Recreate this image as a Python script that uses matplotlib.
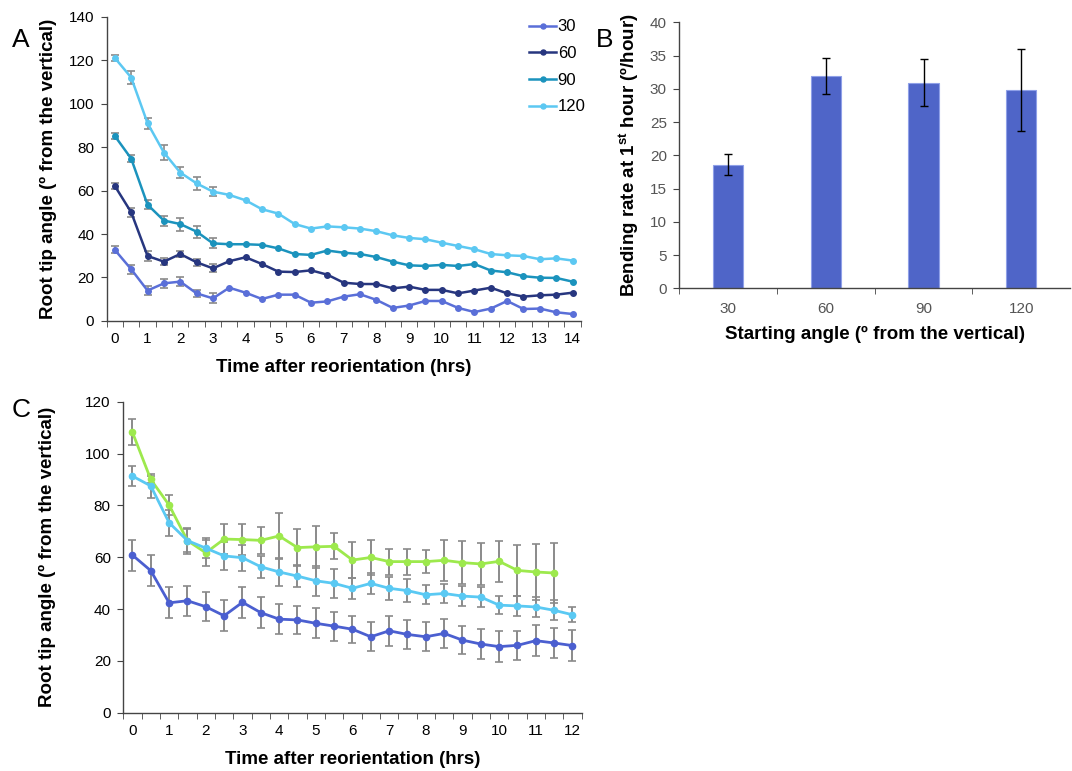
import matplotlib
matplotlib.use("Agg")
import matplotlib.pyplot as plt
import numpy as np

plt.rcParams['font.family'] = ['Liberation Sans', 'DejaVu Sans']
plt.rcParams['mathtext.fontset'] = 'custom'
plt.rcParams['mathtext.rm'] = 'Liberation Sans'
plt.rcParams['mathtext.bf'] = 'Liberation Sans:bold'

# ---- panel A data: root tip angle over 14 h, 4 starting angles ----
hours_a = np.arange(0, 14.5, 0.5)
a30 = [32.7, 23.8, 14.0, 17.3, 18.1, 12.7, 10.4, 15.3, 13.0, 10.1, 12.1, 12.1, 8.4,
       9.0, 11.2, 12.3, 9.7, 6.0, 7.1, 9.2, 9.2, 6.0, 4.1, 5.7, 9.2, 5.5, 5.7, 4.0, 3.2]
a60 = [62.1, 50.0, 29.9, 27.3, 30.8, 27.0, 24.2, 27.5, 29.3, 26.2, 22.7, 22.5, 23.3,
       21.3, 17.6, 17.0, 17.0, 15.0, 15.8, 14.3, 14.3, 12.7, 14.0, 15.3, 12.7, 11.2, 11.8, 12.1, 13.0]
a90 = [85.1, 74.7, 53.5, 46.2, 44.6, 41.1, 35.7, 35.3, 35.3, 35.0, 33.4, 30.8, 30.4,
       32.4, 31.4, 30.8, 29.4, 27.3, 25.6, 25.3, 25.8, 25.3, 26.2, 23.2, 22.4, 20.6, 19.9, 19.8, 18.1]
a120 = [121.0, 112.0, 91.0, 77.5, 68.3, 63.3, 59.5, 58.0, 55.5, 51.4, 49.4, 44.6, 42.5,
        43.5, 43.1, 42.5, 41.3, 39.4, 38.2, 37.6, 36.0, 34.5, 33.0, 30.8, 30.2, 29.9, 28.4, 28.8, 27.8]
# error bars only shown for the first 3 hours
a30_err = [1.6, 2.1, 2.1, 2.2, 1.9, 1.6, 2.3]
a60_err = [1.3, 2.2, 2.3, 1.7, 1.3, 1.5, 1.8]
a90_err = [1.5, 1.7, 2.1, 2.3, 3.0, 2.8, 2.3]
a120_err = [1.4, 2.9, 2.5, 3.3, 2.4, 3.1, 2.2]

# ---- panel B data: bending rate in the first hour ----
start_angles = ['30', '60', '90', '120']
bend_rate = [18.6, 32.0, 30.9, 29.8]
bend_err = [1.55, 2.7, 3.55, 6.2]

# ---- panel C data ----
hours_c = np.arange(0, 12.5, 0.5)
c_blue = [60.8, 54.8, 42.4, 43.2, 40.9, 37.4, 42.6, 38.6, 36.1, 35.8, 34.5, 33.4, 32.2,
          29.3, 31.6, 30.2, 29.3, 30.6, 28.0, 26.5, 25.5, 26.0, 27.8, 26.9, 25.9]
c_blue_err = [6.0, 6.0, 6.0, 5.7, 5.7, 5.9, 6.0, 5.9, 5.7, 5.5, 5.8, 5.6, 5.2,
              5.6, 5.7, 5.6, 5.6, 5.6, 5.4, 5.9, 6.0, 5.7, 5.9, 5.8, 6.1]
c_light = [91.3, 87.5, 73.3, 66.4, 63.5, 60.5, 59.8, 56.3, 54.3, 52.7, 50.9, 49.9, 48.0,
           49.9, 48.0, 47.1, 45.5, 46.0, 45.0, 44.6, 41.5, 41.2, 40.8, 39.5, 37.8]
c_light_err = [3.9, 4.5, 5.0, 4.5, 4.0, 5.5, 5.0, 4.3, 5.5, 4.2, 5.7, 5.5, 4.0,
               4.0, 4.5, 4.5, 3.7, 3.5, 4.0, 4.0, 3.5, 4.0, 4.0, 3.8, 2.9]
c_green = [108.2, 90.0, 80.1, 66.4, 61.7, 67.0, 66.8, 66.5, 68.2, 63.7, 64.0, 64.2,
           58.9, 59.9, 58.3, 58.3, 58.3, 58.8, 57.9, 57.4, 58.4, 54.9, 54.3, 53.9]
c_green_err = [5.1, 1.5, 3.8, 5.0, 5.0, 5.7, 6.0, 5.2, 9.0, 7.0, 8.0, 5.0,
               6.8, 6.7, 5.0, 5.0, 4.5, 7.8, 8.3, 8.2, 8.0, 9.7, 10.7, 11.4]

col30 = '#5a6fd8'
col60 = '#27367f'
col90 = '#1b93bd'
col120 = '#5cc8f2'
c_col_blue = '#4b5fd0'
c_col_light = '#5ac9f3'
c_col_green = '#9de94d'
err_gray = '#8a8a8a'
axis_col = '#444444'
tick_size = 11
label_size = 13.5


def style_axes(ax):
    for s in ['top', 'right']:
        ax.spines[s].set_visible(False)
    for s in ['left', 'bottom']:
        ax.spines[s].set_color(axis_col)
        ax.spines[s].set_linewidth(1.0)
    ax.tick_params(which='both', direction='out', color=axis_col, labelsize=tick_size)
    ax.tick_params(axis='y', length=4, pad=5)


def hour_axis(ax, hours):
    last = hours[-1]
    ax.set_xlim(-0.25, last + 0.25)
    ax.set_xticks(np.arange(0, last + 1, 1))
    ax.set_xticks(np.arange(-0.25, last + 0.3, 0.5), minor=True)
    ax.tick_params(axis='x', which='major', length=0, pad=8)
    ax.tick_params(axis='x', which='minor', length=4)


fig = plt.figure(figsize=(10.72, 7.71), dpi=100)

# Panel A
ax_a = fig.add_axes([0.0995, 0.5837, 0.4422, 0.3947])
series_a = [(a30, a30_err, col30, '30'), (a60, a60_err, col60, '60'),
            (a90, a90_err, col90, '90'), (a120, a120_err, col120, '120')]
for vals, errs, col, lab in series_a:
    n = len(errs)
    ax_a.errorbar(hours_a[:n], vals[:n], yerr=errs, fmt='none', ecolor=err_gray,
                  elinewidth=1.2, capsize=3, capthick=1.2, zorder=1)
    ax_a.plot(hours_a, vals, color=col, lw=1.8, marker='o', ms=4, label=lab, zorder=2)
style_axes(ax_a)
hour_axis(ax_a, hours_a)
ax_a.set_ylim(0, 140)
ax_a.set_yticks(np.arange(0, 141, 20))
ax_a.set_xlabel('Time after reorientation (hrs)', fontsize=label_size, fontweight='bold')
ax_a.set_ylabel('Root tip angle (º from the vertical)', fontsize=label_size, fontweight='bold')
ax_a.xaxis.set_label_coords(0.5, -0.125)
ax_a.yaxis.set_label_coords(-0.104, 0.5)
ax_a.legend(loc='upper left', bbox_to_anchor=(0.86, 1.04), frameon=False,
            fontsize=12, handlelength=1.6, handletextpad=0.1, labelspacing=0.7,
            markerscale=0.9)

# Panel B
ax_b = fig.add_axes([0.6337, 0.626, 0.3645, 0.345])
xb = np.arange(len(start_angles))
ax_b.bar(xb, bend_rate, width=0.31, color='#4f65c8', edgecolor='#8fa0e8', linewidth=0.8,
         yerr=bend_err, capsize=3, error_kw=dict(ecolor='black', elinewidth=1, capthick=1))
style_axes(ax_b)
ax_b.set_xlim(-0.5, len(start_angles) - 0.5)
ax_b.set_xticks(xb)
ax_b.set_xticklabels(start_angles)
ax_b.set_xticks(np.arange(-0.5, len(start_angles) - 0.5, 1), minor=True)
ax_b.tick_params(axis='x', which='major', length=0, pad=10, labelcolor='#555555')
ax_b.tick_params(axis='x', which='minor', length=4)
ax_b.set_ylim(0, 40)
ax_b.set_yticks(np.arange(0, 41, 5))
ax_b.tick_params(axis='y', labelcolor='#555555')
ax_b.set_xlabel('Starting angle (º from the vertical)', fontsize=label_size, fontweight='bold')
ax_b.set_ylabel(r'Bending rate at 1$^{\mathbf{st}}$ hour (º/hour)', fontsize=label_size,
                fontweight='bold')
ax_b.xaxis.set_label_coords(0.5, -0.14)
ax_b.yaxis.set_label_coords(-0.098, 0.5)

# Panel C
ax_c = fig.add_axes([0.115, 0.0756, 0.4276, 0.4034])
series_c = [(c_green, c_green_err, c_col_green), (c_light, c_light_err, c_col_light),
            (c_blue, c_blue_err, c_col_blue)]
for vals, errs, col in series_c:
    xs = hours_c[:len(vals)]
    ax_c.errorbar(xs, vals, yerr=errs, fmt='none', ecolor=err_gray, elinewidth=1.4,
                  capsize=3, capthick=1.2, zorder=1)
    ax_c.plot(xs, vals, color=col, lw=2, marker='o', ms=4.5, zorder=2)
style_axes(ax_c)
hour_axis(ax_c, hours_c)
ax_c.set_ylim(0, 120)
ax_c.set_yticks(np.arange(0, 121, 20))
ax_c.set_xlabel('Time after reorientation (hrs)', fontsize=label_size, fontweight='bold')
ax_c.set_ylabel('Root tip angle (º from the vertical)', fontsize=label_size, fontweight='bold')
ax_c.xaxis.set_label_coords(0.5, -0.122)
ax_c.yaxis.set_label_coords(-0.146, 0.5)

# panel letters
fig.text(0.011, 0.948, 'A', fontsize=19, va='center', ha='left')
fig.text(0.556, 0.948, 'B', fontsize=19, va='center', ha='left')
fig.text(0.011, 0.468, 'C', fontsize=19, va='center', ha='left')

fig.savefig('out.png', dpi=100)
